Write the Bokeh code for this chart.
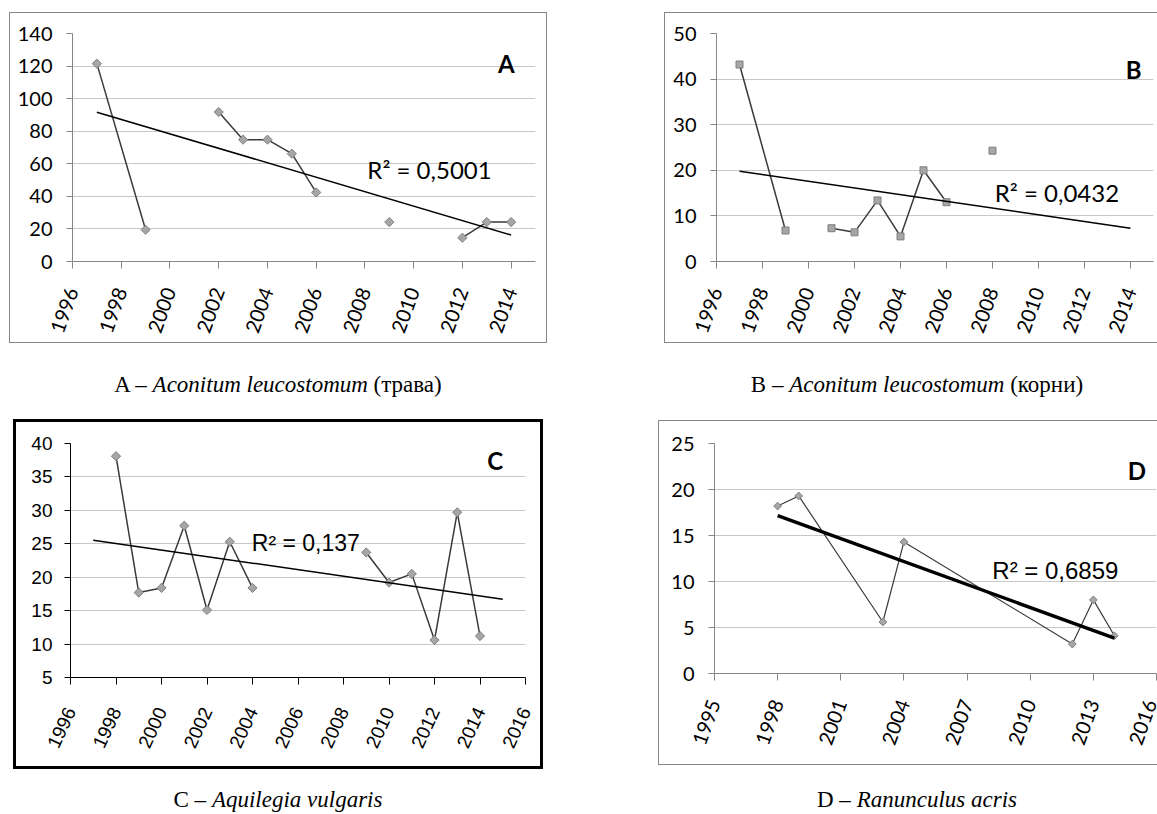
import numpy as np
from bokeh.plotting import figure
from bokeh.layouts import row, column
from bokeh.models import Range1d, FixedTicker, Label, Spacer, Div
from bokeh.embed import file_html
from bokeh.resources import INLINE

# ---------------- data ----------------
# A – Aconitum leucostomum (трава)
a_year = [1997, 1999, 2002, 2003, 2004, 2005, 2006, 2009, 2012, 2013, 2014]
a_value = [121.5, 19.5, 91.8, 74.8, 74.8, 66.2, 42.4, 24.2, 14.6, 24.2, 24.2]
a_run = [0, 0, 1, 1, 1, 1, 1, 2, 3, 3, 3]          # consecutive series joined by a line
a_trend_years = [1997, 2014]
a_r2 = "R² = 0,5001"
a_xticks = [1996, 1998, 2000, 2002, 2004, 2006, 2008, 2010, 2012, 2014]
a_yticks = [0, 20, 40, 60, 80, 100, 120, 140]

# B – Aconitum leucostomum (корни)
b_year = [1997, 1999, 2001, 2002, 2003, 2004, 2005, 2006, 2008]
b_value = [43.2, 6.8, 7.3, 6.4, 13.4, 5.5, 20.0, 13.0, 24.3]
b_run = [0, 0, 1, 1, 1, 1, 1, 1, 2]
b_trend_years = [1997, 2014]
b_r2 = "R² = 0,0432"
b_xticks = [1996, 1998, 2000, 2002, 2004, 2006, 2008, 2010, 2012, 2014]
b_yticks = [0, 10, 20, 30, 40, 50]

# C – Aquilegia vulgaris
c_year = [1998, 1999, 2000, 2001, 2002, 2003, 2004, 2009, 2010, 2011, 2012, 2013, 2014]
c_value = [38.1, 17.7, 18.4, 27.7, 15.1, 25.3, 18.4, 23.7, 19.2, 20.5, 10.6, 29.7, 11.2]
c_run = [0, 0, 0, 0, 0, 0, 0, 1, 1, 1, 1, 1, 1]
c_trend_years = [1997, 2015]
c_r2 = "R² = 0,137"
c_xticks = [1996, 1998, 2000, 2002, 2004, 2006, 2008, 2010, 2012, 2014, 2016]
c_yticks = [5, 10, 15, 20, 25, 30, 35, 40]

# D – Ranunculus acris
d_year = [1998, 1999, 2003, 2004, 2012, 2013, 2014]
d_value = [18.2, 19.3, 5.6, 14.3, 3.2, 8.0, 4.1]
d_run = [0, 0, 0, 0, 0, 0, 0]
d_trend_years = [1998, 2014]
d_r2 = "R² = 0,6859"
d_xticks = [1995, 1998, 2001, 2004, 2007, 2010, 2013, 2016]
d_yticks = [0, 5, 10, 15, 20, 25]

captions = [
    ("A", "Aconitum leucostomum", " (трава)"),
    ("B", "Aconitum leucostomum", " (корни)"),
    ("C", "Aquilegia vulgaris", ""),
    ("D", "Ranunculus acris", ""),
]

GRAY = "#868686"


def panel(year, value, run, trend_years, r2, letter, xticks, yticks, spec):
    p = figure(width=spec["w"], height=spec["h"],
               x_range=Range1d(spec["xr"][0], spec["xr"][1]),
               y_range=Range1d(yticks[0], yticks[-1]),
               output_backend="svg", toolbar_location=None,
               min_border_left=spec["bl"], min_border_right=spec["br"],
               min_border_top=spec["bt"], min_border_bottom=spec["bb"],
               styles={"box-shadow": spec["frame"]})
    p.border_fill_color = None
    p.background_fill_color = "white"
    p.outline_line_color = None
    p.xgrid.grid_line_color = None
    p.ygrid.grid_line_color = "#c8c8c8"
    p.ygrid.grid_line_width = 1

    p.xaxis.ticker = FixedTicker(ticks=xticks)
    p.yaxis.ticker = FixedTicker(ticks=yticks)
    for ax in (p.xaxis[0], p.yaxis[0]):
        ax.axis_line_color = spec["axis"]
        ax.major_tick_line_color = spec["axis"]
        ax.minor_tick_line_color = None
        ax.major_tick_in = 0
        ax.major_label_text_font = spec["font"]
        ax.major_label_text_font_size = spec["fs"]
        ax.major_label_text_color = "black"
    p.yaxis.major_tick_out = 6
    p.yaxis.major_label_standoff = spec["ystand"]
    p.xaxis.major_tick_out = 7
    p.xaxis.major_label_standoff = spec["xstand"]
    p.xaxis.major_label_orientation = np.radians(spec["rot"])

    # data lines (consecutive observations joined)
    xs, ys = [], []
    for r in sorted(set(run)):
        xs.append([x for x, k in zip(year, run) if k == r])
        ys.append([y for y, k in zip(value, run) if k == r])
    p.multi_line(xs, ys, line_color="#3a3a3a", line_width=spec["lw"])

    p.scatter(year, value, marker=spec["marker"], angle=spec["angle"], size=spec["ms"],
              fill_color="#a6a6a6", line_color="#7f7f7f", line_width=1)

    # linear trend line
    coef = np.polyfit(year, value, 1)
    p.line(trend_years, np.polyval(coef, trend_years), line_color="black", line_width=spec["tw"])

    p.add_layout(Label(x=spec["lx"], y=spec["ly"], text=letter, text_font="Lato",
                       text_font_style="bold", text_font_size="24px", text_align="right",
                       text_baseline="alphabetic", text_color="black"))
    p.add_layout(Label(x=spec["rx"], y=spec["ry"], text=r2, text_font=spec["rfont"],
                       text_font_size=spec["rfs"], text_align="left",
                       text_baseline="alphabetic", text_color="black"))
    return p


frame_full = "inset 0 0 0 1px " + GRAY
frame_open = "inset 1px 0 0 %s, inset 0 1px 0 %s, inset 0 -1px 0 %s" % (GRAY, GRAY, GRAY)

pA = panel(a_year, a_value, a_run, a_trend_years, a_r2, "A", a_xticks, a_yticks,
           dict(w=538, h=331, xr=(1996, 2015), bl=63, br=12, bt=21, bb=82, frame=frame_full,
                axis=GRAY, font="Lato", fs="20px", ystand=14, xstand=20, rot=70, lw=1.5,
                marker="square", angle=np.pi / 4, ms=6.5, tw=1.5, lx=2014.14, ly=121.7,
                rx=2008.1, ry=56.5, rfont="Lato", rfs="24px"))
pB = panel(b_year, b_value, b_run, b_trend_years, b_r2, "B", b_xticks, b_yticks,
           dict(w=493, h=331, xr=(1996, 2015), bl=52, br=4, bt=21, bb=81, frame=frame_open,
                axis=GRAY, font="Lato", fs="20px", ystand=14, xstand=20, rot=70, lw=1.5,
                marker="square", angle=0, ms=7, tw=1.5, lx=2014.48, ly=42.0, rx=2008.1,
                ry=15.15, rfont="Lato", rfs="24px"))
pC = panel(c_year, c_value, c_run, c_trend_years, c_r2, "C", c_xticks, c_yticks,
           dict(w=530, h=350, xr=(1996, 2016), bl=57, br=18, bt=24, bb=92,
                frame="inset 0 0 0 3px #000000",
                axis="#000000", font="Liberation Sans", fs="19px", ystand=12, xstand=24, rot=65,
                lw=1.5, marker="square", angle=np.pi / 4, ms=6.5, tw=1.5, lx=2015.02, ly=37.5,
                rx=2003.97, ry=25.1, rfont="Liberation Sans", rfs="23px"))
pD = panel(d_year, d_value, d_run, d_trend_years, d_r2, "D", d_xticks, d_yticks,
           dict(w=499, h=345, xr=(1995, 2016), bl=56, br=1, bt=23, bb=92, frame=frame_open,
                axis=GRAY, font="Lato", fs="20px", ystand=14, xstand=20, rot=70, lw=1.2,
                marker="square", angle=np.pi / 4, ms=5.5, tw=3.5, lx=2015.5, ly=22.04,
                rx=2008.2, ry=11.15, rfont="Liberation Sans", rfs="24px"))


def caption(idx, width, height, top):
    lab, sp_, note = captions[idx]
    html = ('<div style="width:%dpx;text-align:center;font-family:\'Liberation Serif\';'
            'font-size:23px;line-height:23px;padding-top:%dpx;color:#000;white-space:nowrap;">'
            '%s – <i>%s</i>%s</div>') % (width, top, lab, sp_, note)
    return Div(text=html, width=width, height=height, margin=(0, 0, 0, 0))


def sp(w=None, h=None):
    kw = {"margin": (0, 0, 0, 0)}
    if w is not None:
        kw["width"] = w
    if h is not None:
        kw["height"] = h
    return Spacer(**kw)


row1 = row(sp(9, 331), pA, sp(117, 331), pB)
cap1 = row(sp(9, 76), caption(0, 538, 76, 30), sp(130, 76), caption(1, 480, 76, 30))
row2 = row(sp(13, 350), pC, sp(115, 350), column(sp(499, 1), pD))
cap2 = row(sp(13, 44), caption(2, 530, 44, 19), sp(134, 44), caption(3, 480, 44, 19))
layout = column(sp(1157, 12), row1, cap1, row2, cap2)

open("out.html", "w").write(file_html(layout, INLINE))
